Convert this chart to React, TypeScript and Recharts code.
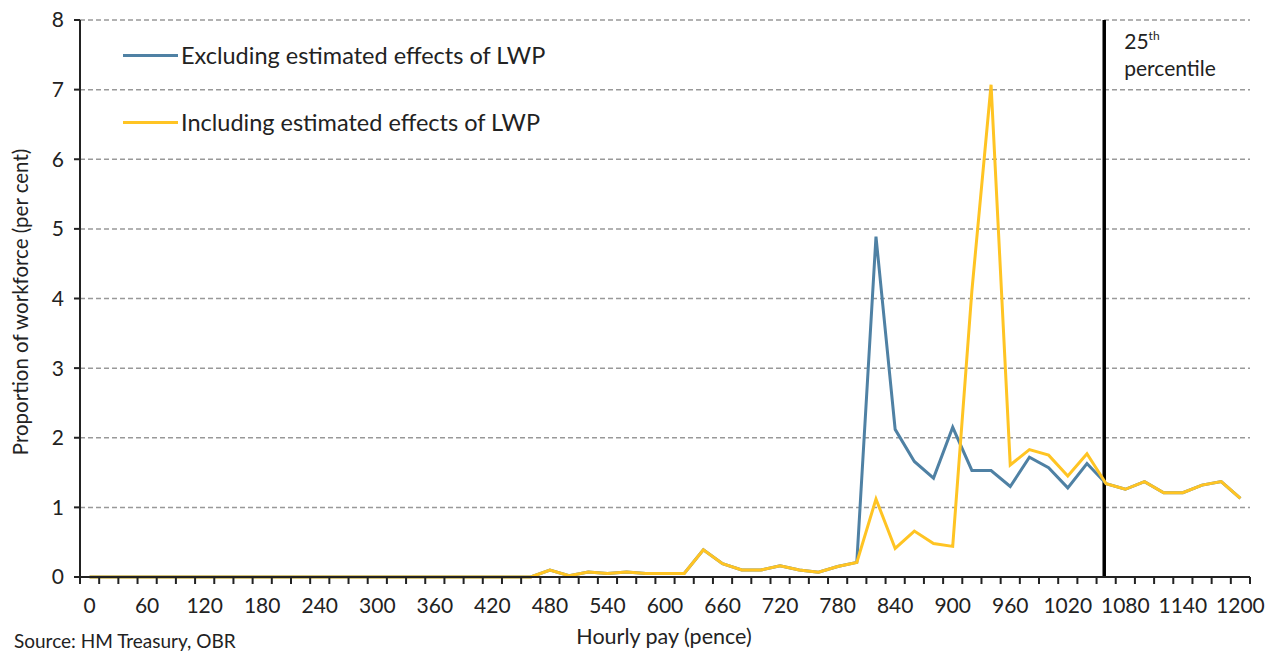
import React from "react";
import { LineChart, Line, XAxis, YAxis, CartesianGrid, ReferenceLine } from "recharts";

const fontFamily = "Lato, 'Open Sans', sans-serif";
const blue = "#4F81A4";
const yellow = "#FFC423";

// hourly pay categories (pence)
const payBands = [
  0, 20, 40, 60, 80, 100, 120, 140, 160, 180, 200, 220, 240, 260, 280, 300, 320, 340, 360, 380,
  400, 420, 440, 460, 480, 500, 520, 540, 560, 580, 600, 620, 640, 660, 680, 700, 720, 740, 760,
  780, 800, 820, 840, 860, 880, 900, 920, 940, 960, 980, 1000, 1020, 1040, 1060, 1080, 1100, 1120,
  1140, 1160, 1180, 1200,
];

const excludingLWP = [
  0, 0, 0, 0, 0, 0, 0, 0, 0, 0, 0, 0, 0, 0, 0, 0, 0, 0, 0, 0,
  0, 0, 0, 0, 0.1, 0.02, 0.07, 0.05, 0.07, 0.05, 0.05, 0.05, 0.39, 0.19, 0.1, 0.1, 0.16, 0.1, 0.07,
  0.15, 0.21, 4.89, 2.12, 1.66, 1.42, 2.15, 1.53, 1.53, 1.3, 1.72, 1.57, 1.28, 1.63, 1.34, 1.26, 1.37, 1.21,
  1.21, 1.32, 1.37, 1.13,
];

const includingLWP = [
  0, 0, 0, 0, 0, 0, 0, 0, 0, 0, 0, 0, 0, 0, 0, 0, 0, 0, 0, 0,
  0, 0, 0, 0, 0.1, 0.02, 0.07, 0.05, 0.07, 0.05, 0.05, 0.05, 0.39, 0.19, 0.1, 0.1, 0.16, 0.1, 0.07,
  0.15, 0.21, 1.12, 0.41, 0.66, 0.48, 0.44, 4.11, 7.07, 1.61, 1.83, 1.75, 1.45, 1.77, 1.34, 1.26, 1.37, 1.21,
  1.21, 1.32, 1.37, 1.13,
];

// labelled ticks and the category boundaries that carry tick marks
const labelTicks = [0, 60, 120, 180, 240, 300, 360, 420, 480, 540, 600, 660, 720, 780, 840, 900, 960, 1020, 1080, 1140, 1200];
const boundaryTicks = payBands.map((p) => p - 10).concat([1210]);
const yTicks = [0, 1, 2, 3, 4, 5, 6, 7, 8];
const percentile25 = 1058;

const data = payBands.map((pay, i) => ({
  pay,
  excluding: excludingLWP[i],
  including: includingLWP[i],
}));

const allXTicks = Array.from(new Set([...boundaryTicks, ...labelTicks])).sort((a, b) => a - b);

const XTick = (props: any) => {
  const { x, y, payload } = props;
  const v = payload.value;
  const isLabel = labelTicks.includes(v);
  return (
    <g>
      {!isLabel && <line x1={x} x2={x} y1={y} y2={y + 7} stroke="#222" strokeWidth={2} />}
      {isLabel && (
        <text x={x} y={y + 36} textAnchor="middle" fontSize={21} fill="#222" fontFamily={fontFamily}>
          {v}
        </text>
      )}
    </g>
  );
};

const PercentileLabel = (props: any) => {
  const { viewBox } = props;
  const x = viewBox.x + 20;
  const y = viewBox.y;
  return (
    <text fontFamily={fontFamily} fill="#222" fontSize={21}>
      <tspan x={x} y={y + 29}>25</tspan>
      <tspan fontSize={12} dy={-9}>th</tspan>
      <tspan x={x} y={y + 56}>percentile</tspan>
    </text>
  );
};

const App = () => {
  return (
    <div style={{ position: "absolute", left: 0, top: 0, width: 1272, height: 651, background: "#fff", fontFamily }}>
      <LineChart width={1272} height={651} data={data} margin={{ top: 20, right: 22, bottom: 24, left: 0 }}>
        <CartesianGrid vertical={false} stroke="#999" strokeDasharray="5 3" strokeWidth={1.5} />
        <XAxis
          dataKey="pay"
          type="number"
          domain={[-10, 1210]}
          ticks={allXTicks}
          interval={0}
          tickLine={false}
          tickSize={0}
          tickMargin={0}
          tick={<XTick />}
          axisLine={{ stroke: "#222", strokeWidth: 2 }}
          height={50}
        />
        <YAxis
          domain={[0, 8]}
          ticks={yTicks}
          interval={0}
          width={80}
          tickSize={6}
          tickMargin={10}
          axisLine={{ stroke: "#222", strokeWidth: 2 }}
          tickLine={{ stroke: "#222", strokeWidth: 2 }}
          tick={{ fontSize: 21, fill: "#222", fontFamily }}
        />
        <ReferenceLine x={percentile25} stroke="#000" strokeWidth={3.5} label={<PercentileLabel />} />
        <Line dataKey="excluding" stroke={blue} strokeWidth={3} dot={false} isAnimationActive={false} />
        <Line dataKey="including" stroke={yellow} strokeWidth={3} dot={false} isAnimationActive={false} />
      </LineChart>

      {/* legend */}
      <div style={{ position: "absolute", left: 123, top: 39, fontSize: 23.5, color: "#222" }}>
        <div style={{ display: "flex", alignItems: "center", height: 32 }}>
          <span style={{ display: "inline-block", width: 55, height: 3, background: blue, marginRight: 3 }} />
          Excluding estimated effects of LWP
        </div>
        <div style={{ display: "flex", alignItems: "center", height: 32, marginTop: 35 }}>
          <span style={{ display: "inline-block", width: 55, height: 3, background: yellow, marginRight: 3 }} />
          Including estimated effects of LWP
        </div>
      </div>

      {/* axis titles and source */}
      <div
        style={{
          position: "absolute",
          left: 20,
          top: 302,
          transform: "translate(-50%, -50%) rotate(-90deg)",
          whiteSpace: "nowrap",
          fontSize: 20.5,
          color: "#222",
        }}
      >
        Proportion of workforce (per cent)
      </div>
      <div style={{ position: "absolute", left: 664, top: 636, transform: "translate(-50%, -50%)", fontSize: 21.5, color: "#222", whiteSpace: "nowrap" }}>
        Hourly pay (pence)
      </div>
      <div style={{ position: "absolute", left: 14, top: 640, transform: "translateY(-50%)", fontSize: 19, color: "#222", whiteSpace: "nowrap" }}>
        Source: HM Treasury, OBR
      </div>
    </div>
  );
};

export default App;
